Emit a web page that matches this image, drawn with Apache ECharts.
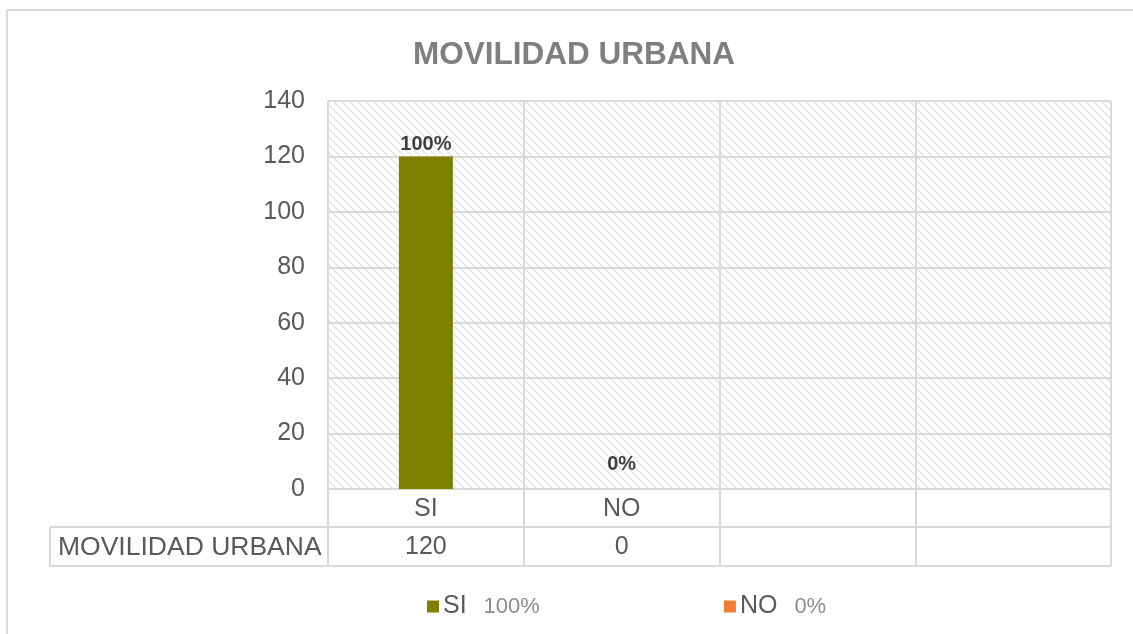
<!DOCTYPE html>
<html>
<head>
<meta charset="utf-8">
<script src="https://cdn.jsdelivr.net/npm/echarts@6/dist/echarts.min.js"></script>
<style>
  html, body { margin: 0; padding: 0; background: #fff; }
  #chart { width: 1133px; height: 634px; }
</style>
</head>
<body>
<div id="chart"></div>
<script>
const categories = ["SI", "NO", "", ""];
const siValues = [120, "-", "-", "-"];
const noValues = ["-", 0, "-", "-"];
const tableRowName = "MOVILIDAD URBANA";
const tableValues = [120, 0, "", ""];
const yTicks = { min: 0, max: 140, interval: 20 };

const total = tableValues.reduce((s, v) => s + (typeof v === "number" ? v : 0), 0);
const pct = (v) => Math.round((v / total) * 100) + "%";

// hatch pattern (excel style downward diagonal)
const pat = document.createElement("canvas");
pat.width = 8;
pat.height = 8;
const ctx = pat.getContext("2d");
ctx.fillStyle = "#ffffff";
ctx.fillRect(0, 0, 8, 8);
ctx.strokeStyle = "#dcdcdc";
ctx.lineWidth = 1.2;
ctx.beginPath();
ctx.moveTo(-2, -2); ctx.lineTo(10, 10);
ctx.moveTo(-2, 6); ctx.lineTo(2, 10);
ctx.moveTo(6, -2); ctx.lineTo(10, 2);
ctx.stroke();

const chart = echarts.init(document.getElementById("chart"));
const gridLine = "#d9d9d9";
const txt = "#595959";
const font = "Liberation Sans";

const option = {
  animation: false,
  title: {
    text: "MOVILIDAD URBANA",
    left: 408,
    top: 34,
    textStyle: { fontFamily: font, fontSize: 31.5, fontWeight: "bold", color: "#7f7f7f" },
  },
  legend: {
    left: 422,
    top: 589,
    itemWidth: 12,
    itemHeight: 12,
    itemGap: 184,
    icon: "rect",
    data: ["SI", "NO"],
    formatter: function (name) {
      const v = name === "SI" ? tableValues[0] : tableValues[1];
      return "{n|" + name + "}{p|" + pct(v) + "}";
    },
    textStyle: {
      padding: [0, 0, 0, -1],
      rich: {
        n: { fontFamily: font, fontSize: 25, color: txt },
        p: { fontFamily: font, fontSize: 22, color: "#8c8c8c", padding: [0, 0, 0, 17] },
      },
    },
  },
  grid: {
    left: 328,
    right: 22,
    top: 101,
    bottom: 145,
    show: true,
    borderWidth: 0,
    backgroundColor: { image: pat, repeat: "repeat" },
  },
  xAxis: {
    type: "category",
    data: categories,
    axisLine: { lineStyle: { color: gridLine, width: 2 } },
    axisTick: { show: true, length: 77, lineStyle: { color: gridLine, width: 2 } },
    axisLabel: { fontFamily: font, fontSize: 25, color: txt, margin: 8 },
    splitLine: { show: true, lineStyle: { color: gridLine, width: 2 } },
  },
  yAxis: {
    type: "value",
    min: yTicks.min,
    max: yTicks.max,
    interval: yTicks.interval,
    axisLine: { show: false },
    axisTick: { show: false },
    axisLabel: { fontFamily: font, fontSize: 25, color: txt, margin: 23 },
    splitLine: { lineStyle: { color: gridLine, width: 2 } },
  },
  series: [
    {
      name: "SI",
      type: "bar",
      stack: "t",
      barWidth: 54,
      data: siValues,
      itemStyle: { color: "#808000" },
      label: {
        show: true,
        position: "top",
        distance: 2,
        formatter: (p) => pct(p.value),
        fontFamily: font,
        fontSize: 20,
        fontWeight: "bold",
        color: "#404040",
      },
    },
    {
      name: "NO",
      type: "bar",
      stack: "t",
      barWidth: 54,
      data: noValues,
      itemStyle: { color: "#ED7D31" },
      label: {
        show: true,
        position: "top",
        distance: 15,
        formatter: (p) => pct(p.value),
        fontFamily: font,
        fontSize: 20,
        fontWeight: "bold",
        color: "#404040",
      },
    },
  ],
};
chart.setOption(option);

// data table under the axis + outer frame
const x0 = chart.convertToPixel({ xAxisIndex: 0 }, 0);
const x1 = chart.convertToPixel({ xAxisIndex: 0 }, 1);
const step = x1 - x0;
const plotLeft = x0 - step / 2;
const plotRight = plotLeft + step * categories.length;
const axisY = chart.convertToPixel({ yAxisIndex: 0 }, 0);
const rowTop = axisY + 38;
const rowBottom = axisY + 77;
const tableLeft = 50;
const ls = { stroke: gridLine, lineWidth: 2 };

const g = [
  { type: "line", shape: { x1: 7, y1: 10, x2: 7, y2: 634 }, style: ls },
  { type: "line", shape: { x1: 7, y1: 10, x2: 1133, y2: 10 }, style: ls },
  { type: "line", shape: { x1: tableLeft, y1: rowTop, x2: plotRight, y2: rowTop }, style: ls },
  { type: "line", shape: { x1: tableLeft, y1: rowBottom, x2: plotRight, y2: rowBottom }, style: ls },
  { type: "line", shape: { x1: tableLeft, y1: rowTop, x2: tableLeft, y2: rowBottom }, style: ls },
  {
    type: "text",
    x: tableLeft + 8,
    y: (rowTop + rowBottom) / 2 + 1,
    style: { text: tableRowName, fontFamily: font, fontSize: 26.5, fill: txt, verticalAlign: "middle" },
  },
];
tableValues.forEach((v, i) => {
  g.push({
    type: "text",
    x: chart.convertToPixel({ xAxisIndex: 0 }, i),
    y: (rowTop + rowBottom) / 2 + 1,
    style: { text: String(v), fontFamily: font, fontSize: 25, fill: txt, align: "center", verticalAlign: "middle" },
  });
});
chart.setOption({ graphic: g });

window.addEventListener("resize", function () {
  chart.resize();
});
</script>
</body>
</html>
